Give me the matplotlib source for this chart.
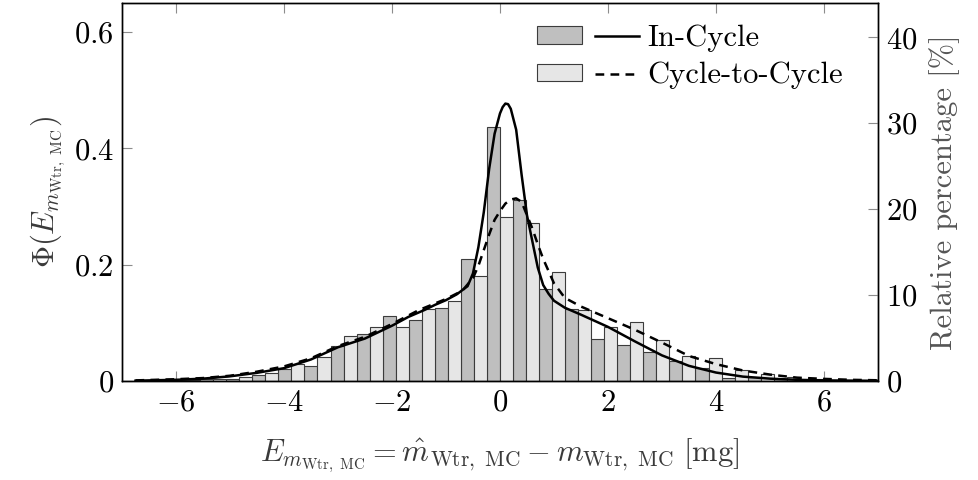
import numpy as np
import matplotlib
matplotlib.use("Agg")
import matplotlib.pyplot as plt
from matplotlib.legend_handler import HandlerTuple
from matplotlib.patches import Patch
from matplotlib.lines import Line2D

plt.rcParams['font.family'] = 'serif'
plt.rcParams['font.serif'] = ['cmr10', 'DejaVu Serif']
plt.rcParams['mathtext.fontset'] = 'cm'
plt.rcParams['axes.formatter.use_mathtext'] = True

# histogram bins over the error range [mg]
bin_edges = np.linspace(-7, 7, 30)

# normalised histogram heights per bin
in_cycle_hist = [0.000, 0.001, 0.002, 0.003, 0.004, 0.010, 0.020, 0.026, 0.060, 0.080,
                 0.111, 0.104, 0.125, 0.210, 0.436, 0.311, 0.159, 0.124, 0.073, 0.062,
                 0.050, 0.034, 0.022, 0.005, 0.006, 0.004, 0.002, 0.001, 0.000]
c2c_hist = [0.000, 0.001, 0.001, 0.003, 0.006, 0.014, 0.030, 0.041, 0.077, 0.092,
            0.093, 0.123, 0.137, 0.180, 0.282, 0.271, 0.188, 0.122, 0.093, 0.101,
            0.0705, 0.0435, 0.040, 0.019, 0.0115, 0.006, 0.003, 0.001, 0.000]

# fitted densities
in_cycle_x = [-6.75, -6.0, -5.5, -5.0, -4.5, -4.0, -3.5, -3.0, -2.5, -2.0, -1.7, -1.4,
              -1.2, -1.0, -0.8, -0.6, -0.5, -0.4, -0.3, -0.2, -0.1, 0.0, 0.05, 0.1, 0.15,
              0.2, 0.3, 0.4, 0.5, 0.6, 0.7, 0.8, 0.9, 1.0, 1.2, 1.5, 2.0, 2.5, 3.0, 3.5,
              4.0, 4.5, 5.0, 5.5, 6.0, 6.5, 7.0]
in_cycle_pdf = [0.0005, 0.002, 0.004, 0.008, 0.014, 0.022, 0.037, 0.058, 0.073, 0.095,
                0.110, 0.122, 0.131, 0.139, 0.149, 0.163, 0.185, 0.230, 0.290, 0.365,
                0.425, 0.460, 0.471, 0.477, 0.476, 0.468, 0.432, 0.355, 0.285, 0.240,
                0.195, 0.165, 0.150, 0.138, 0.126, 0.114, 0.093, 0.068, 0.044, 0.026,
                0.0145, 0.0075, 0.004, 0.002, 0.001, 0.0006, 0.0003]

c2c_x = [-6.75, -6.0, -5.5, -5.0, -4.5, -4.0, -3.5, -3.0, -2.5, -2.0, -1.5, -1.0, -0.7,
         -0.5, -0.4, -0.3, -0.2, -0.1, 0.0, 0.1, 0.2, 0.3, 0.4, 0.5, 0.6, 0.7, 0.8, 1.0,
         1.2, 1.5, 2.0, 2.5, 3.0, 3.5, 4.0, 4.5, 5.0, 5.5, 6.0, 6.5, 7.0]
c2c_pdf = [0.001, 0.003, 0.005, 0.009, 0.016, 0.025, 0.039, 0.060, 0.076, 0.098, 0.122,
           0.141, 0.155, 0.177, 0.198, 0.225, 0.252, 0.277, 0.292, 0.305, 0.312, 0.314,
           0.308, 0.285, 0.262, 0.235, 0.210, 0.168, 0.143, 0.128, 0.108, 0.088, 0.066,
           0.043, 0.029, 0.018, 0.011, 0.0057, 0.0036, 0.002, 0.0012]

x_ticks = [-6, -4, -2, 0, 2, 4, 6]
phi_ticks = [0, 0.2, 0.4, 0.6]
pct_ticks = [0, 10, 20, 30, 40]

dark_grey = '#bfbfbf'
light_grey = '#e6e6e6'
edge = '#3c3c3c'
tick_grey = '#8c8c8c'
label_grey = '#3a3a3a'
fs = 22

fig = plt.figure(figsize=(9.79, 4.8), dpi=100)
ax = fig.add_axes([0.1246, 0.2063, 0.7722, 0.7875])

centers = 0.5 * (bin_edges[:-1] + bin_edges[1:])
half = 0.5 * (bin_edges[1] - bin_edges[0])

# pgfplots-style grouping: first series left of the bin centre, second right of it
ax.bar(centers - half, in_cycle_hist, width=half, align='edge', color=dark_grey,
       edgecolor=edge, linewidth=0.8, zorder=2)
ax.bar(centers, c2c_hist, width=half, align='edge', color=light_grey,
       edgecolor=edge, linewidth=0.8, zorder=2)

ax.plot(in_cycle_x, in_cycle_pdf, color='black', linewidth=1.8, zorder=3)
ax.plot(c2c_x, c2c_pdf, color='black', linewidth=1.8, linestyle=(0, (3.5, 2.5)), zorder=3)

ax.set_xlim(-7, 7)
ax.set_ylim(0, 0.65)
ax.set_xticks(x_ticks)
ax.set_xticklabels([r'$%g$' % v for v in x_ticks])
ax.set_yticks(phi_ticks)
ax.set_yticklabels([r'$%g$' % v for v in phi_ticks])
ax.tick_params(axis='both', direction='in', length=7, width=0.8, color=tick_grey,
               labelsize=fs, pad=6)
ax.tick_params(axis='x', top=True)
ax.set_xlabel(r'$E_{m_{\mathrm{Wtr,\ MC}}} = \hat{m}_{\mathrm{Wtr,\ MC}} - m_{\mathrm{Wtr,\ MC}}\ [\mathrm{mg}]$',
              fontsize=fs, color=label_grey, labelpad=14)
ax.set_ylabel(r'$\Phi(E_{m_{\mathrm{Wtr,\ MC}}})$', fontsize=fs, color=label_grey, labelpad=4)

ax2 = ax.twinx()
ax2.set_ylim(0, 44)
ax2.set_yticks(pct_ticks)
ax2.set_yticklabels([r'$%g$' % v for v in pct_ticks])
ax2.tick_params(axis='y', direction='in', length=7, width=0.8, color=tick_grey,
                labelsize=fs, pad=6)
ax2.set_ylabel('Relative percentage [%]', fontsize=fs, color='#555555', labelpad=8)

for a in (ax, ax2):
    for s in a.spines.values():
        s.set_linewidth(1.0)
        s.set_color('black')

handles = [
    (Patch(facecolor=dark_grey, edgecolor=edge, linewidth=0.8),
     Line2D([], [], color='black', linewidth=1.8)),
    (Patch(facecolor=light_grey, edgecolor=edge, linewidth=0.8),
     Line2D([], [], color='black', linewidth=1.8, linestyle=(0, (3.5, 2.5)))),
]
ax2.legend(handles, ['In-Cycle', 'Cycle-to-Cycle'],
           handler_map={tuple: HandlerTuple(ndivide=None, pad=0.42)},
           loc='upper left', bbox_to_anchor=(0.549, 0.943), frameon=False,
           fontsize=fs, handlelength=3.35, handleheight=0.5, handletextpad=0.25,
           labelspacing=0.32, borderpad=0, borderaxespad=0)

fig.savefig('out.png', dpi=100)
